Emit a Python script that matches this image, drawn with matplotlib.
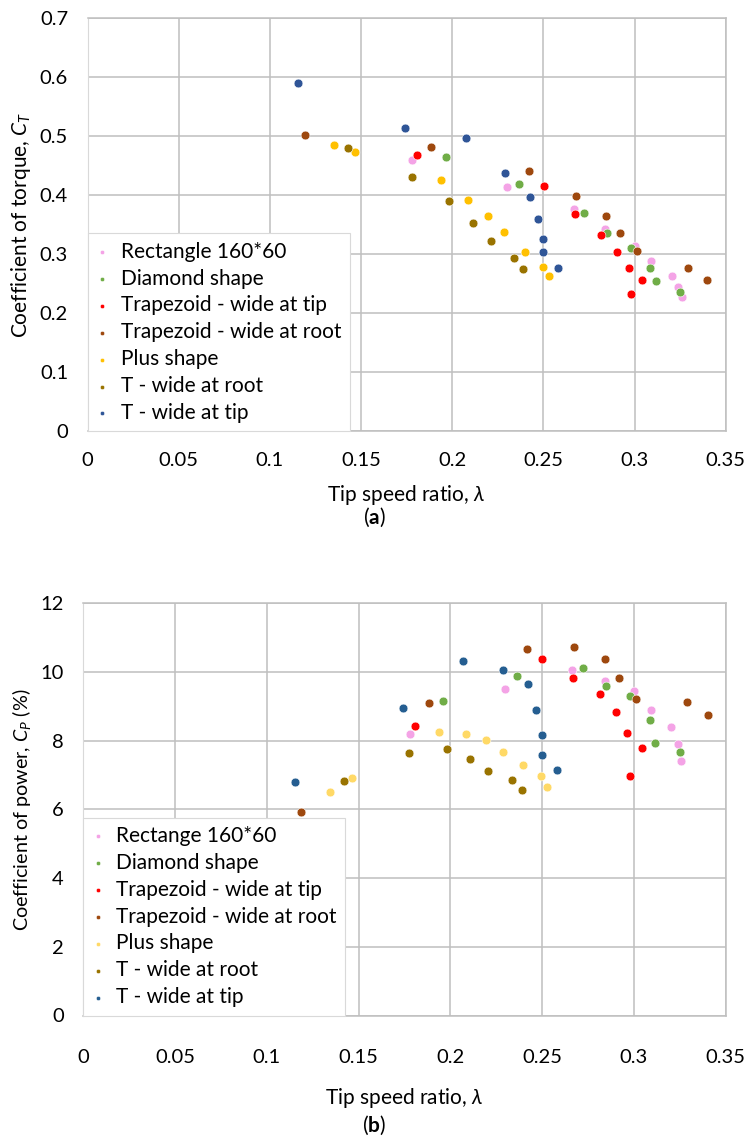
import matplotlib
matplotlib.use("Agg")
import matplotlib.pyplot as plt

plt.rcParams['font.family'] = ['Lato', 'DejaVu Sans']
plt.rcParams['mathtext.fontset'] = 'custom'
plt.rcParams['mathtext.rm'] = 'Lato'
plt.rcParams['mathtext.it'] = 'Lato:italic'
plt.rcParams['mathtext.bf'] = 'Lato:bold'

# ---------------- (a) coefficient of torque ----------------
rect_x_a = [0.1780, 0.2301, 0.2668, 0.2840, 0.3003, 0.3090, 0.3204, 0.3240, 0.3260]
rect_y_a = [0.460, 0.413, 0.377, 0.342, 0.314, 0.288, 0.262, 0.245, 0.227]
diam_x_a = [0.1966, 0.2365, 0.2721, 0.2849, 0.2979, 0.3087, 0.3116, 0.3249]
diam_y_a = [0.464, 0.418, 0.370, 0.335, 0.311, 0.277, 0.254, 0.236]
trtip_x_a = [0.1809, 0.2502, 0.2672, 0.2818, 0.2902, 0.2968, 0.3041, 0.2979]
trtip_y_a = [0.467, 0.415, 0.367, 0.332, 0.304, 0.277, 0.256, 0.233]
trroot_x_a = [0.1194, 0.1884, 0.2420, 0.2677, 0.2842, 0.2920, 0.3012, 0.3292, 0.3399]
trroot_y_a = [0.501, 0.482, 0.440, 0.399, 0.365, 0.335, 0.305, 0.277, 0.256]
plus_x_a = [0.1352, 0.1469, 0.1940, 0.2087, 0.2198, 0.2284, 0.2401, 0.2500, 0.2531]
plus_y_a = [0.484, 0.472, 0.425, 0.392, 0.365, 0.337, 0.304, 0.278, 0.263]
troot_x_a = [0.1429, 0.1780, 0.1983, 0.2113, 0.2213, 0.2339, 0.2390]
troot_y_a = [0.479, 0.430, 0.390, 0.353, 0.322, 0.293, 0.274]
ttip_x_a = [0.1156, 0.1743, 0.2074, 0.2288, 0.2425, 0.2471, 0.2500, 0.2498, 0.2582]
ttip_y_a = [0.590, 0.513, 0.497, 0.438, 0.397, 0.359, 0.326, 0.303, 0.277]

# ---------------- (b) coefficient of power (%) ----------------
rect_x_b = [0.1779, 0.2300, 0.2665, 0.2841, 0.3001, 0.3092, 0.3204, 0.3240, 0.3258]
rect_y_b = [8.19, 9.50, 10.07, 9.73, 9.45, 8.89, 8.40, 7.91, 7.42]
diam_x_b = [0.1962, 0.2362, 0.2721, 0.2850, 0.2979, 0.3089, 0.3115, 0.3249]
diam_y_b = [9.15, 9.89, 10.11, 9.58, 9.29, 8.59, 7.92, 7.67]
trtip_x_b = [0.1806, 0.2498, 0.2670, 0.2814, 0.2901, 0.2964, 0.3044, 0.2977]
trtip_y_b = [8.44, 10.38, 9.83, 9.37, 8.84, 8.22, 7.79, 6.96]
trroot_x_b = [0.1187, 0.1882, 0.2418, 0.2675, 0.2843, 0.2919, 0.3011, 0.3291, 0.3402]
trroot_y_b = [5.93, 9.09, 10.66, 10.72, 10.39, 9.83, 9.21, 9.14, 8.74]
plus_x_b = [0.1345, 0.1465, 0.1937, 0.2086, 0.2193, 0.2285, 0.2398, 0.2496, 0.2528]
plus_y_b = [6.52, 6.92, 8.25, 8.19, 8.02, 7.67, 7.29, 6.96, 6.65]
troot_x_b = [0.1423, 0.1777, 0.1980, 0.2109, 0.2207, 0.2338, 0.2389]
troot_y_b = [6.82, 7.63, 7.75, 7.46, 7.11, 6.87, 6.57]
ttip_x_b = [0.1153, 0.1741, 0.2071, 0.2287, 0.2423, 0.2467, 0.2499, 0.2498, 0.2581]
ttip_y_b = [6.80, 8.95, 10.32, 10.07, 9.64, 8.89, 8.17, 7.58, 7.15]

labels_a = ['Rectangle 160*60', 'Diamond shape', 'Trapezoid - wide at tip',
            'Trapezoid - wide at root', 'Plus shape', 'T - wide at root', 'T - wide at tip']
labels_b = ['Rectange 160*60', 'Diamond shape', 'Trapezoid - wide at tip',
            'Trapezoid - wide at root', 'Plus shape', 'T - wide at root', 'T - wide at tip']
colors_a = ['#F4A3E6', '#70AD47', '#FF0000', '#9E480E', '#FFC000', '#997300', '#2F5597']
colors_b = ['#F4A3E6', '#70AD47', '#FF0000', '#9E480E', '#FFD966', '#997300', '#255E91']

xticks = [0, 0.05, 0.1, 0.15, 0.2, 0.25, 0.3, 0.35]
xticklabels = ['0', '0.05', '0.1', '0.15', '0.2', '0.25', '0.3', '0.35']
yticks_a = [0, 0.1, 0.2, 0.3, 0.4, 0.5, 0.6, 0.7]
yticklabels_a = ['0', '0.1', '0.2', '0.3', '0.4', '0.5', '0.6', '0.7']
yticks_b = [0, 2, 4, 6, 8, 10, 12]
yticklabels_b = ['0', '2', '4', '6', '8', '10', '12']

series_a = [(rect_x_a, rect_y_a), (diam_x_a, diam_y_a), (trtip_x_a, trtip_y_a),
            (trroot_x_a, trroot_y_a), (plus_x_a, plus_y_a), (troot_x_a, troot_y_a),
            (ttip_x_a, ttip_y_a)]
series_b = [(rect_x_b, rect_y_b), (diam_x_b, diam_y_b), (trtip_x_b, trtip_y_b),
            (trroot_x_b, trroot_y_b), (plus_x_b, plus_y_b), (troot_x_b, troot_y_b),
            (ttip_x_b, ttip_y_b)]

W, H = 748, 1140
fig = plt.figure(figsize=(W / 100, H / 100), dpi=100)

grid_c = '#BFBFBF'
fs = 15
tfs = 14.5


def make_axes(rect, series, labels, colors, yticks, yticklabels, ylim, ylabel, ylab_x,
              ylab_fs, xlab_y, xpad):
    ax = fig.add_axes(rect)
    for (xs, ys), lab, c in zip(series, labels, colors):
        ax.scatter(xs, ys, s=40, color=c, edgecolors='white', linewidths=0.4,
                   label=lab, zorder=3)
    ax.set_xlim(0, 0.35)
    ax.set_ylim(*ylim)
    ax.set_xticks(xticks)
    ax.set_xticklabels(xticklabels)
    ax.set_yticks(yticks)
    ax.set_yticklabels(yticklabels)
    ax.grid(True, color=grid_c, linewidth=1.1, zorder=0)
    ax.set_axisbelow(True)
    for s in ax.spines.values():
        s.set_color(grid_c)
        s.set_linewidth(1.1)
    ax.spines['left'].set_color('#D9D9D9')
    ax.spines['left'].set_linewidth(0.8)
    ax.tick_params(length=0, labelsize=tfs, colors='#000000')
    ax.tick_params(axis='x', pad=xpad)
    ax.tick_params(axis='y', pad=14)
    ax.set_xlabel('Tip speed ratio, $\\mathit{\\lambda}$', fontsize=fs, va='top')
    ax.set_ylabel(ylabel, fontsize=ylab_fs)
    ax.yaxis.set_label_coords(ylab_x, 0.5)
    ax.xaxis.set_label_coords(0.5, xlab_y)
    leg = ax.legend(loc='lower left', bbox_to_anchor=(0.0, 0.0), borderaxespad=0.0,
                    fontsize=fs, frameon=True, fancybox=False, markerscale=0.5,
                    handlelength=0.6, handletextpad=0.6, labelspacing=0.33,
                    borderpad=0.4)
    leg.get_frame().set_edgecolor('#D9D9D9')
    leg.get_frame().set_linewidth(0.8)
    leg.get_frame().set_facecolor('white')
    leg.get_frame().set_alpha(1.0)
    return ax


ax1 = make_axes([87.5 / W, 1 - 431.3 / H, (725.7 - 87.5) / W, (431.3 - 17.7) / H],
                series_a, labels_a, colors_a, yticks_a, yticklabels_a, (0, 0.7),
                'Coefficient of torque, $C_T$', -0.085, fs, -0.125, 15)
ax2 = make_axes([83.1 / W, 1 - 1015.5 / H, (725.7 - 83.1) / W, (1015.5 - 603.3) / H],
                series_b, labels_b, colors_b, yticks_b, yticklabels_b, (0, 12),
                'Coefficient of power, $C_P$ (%)', -0.078, 14.2, -0.172, 24)

fig.text(374 / W, 1 - 517 / H, '($\\mathbf{a}$)', ha='center', va='center', fontsize=fs)
fig.text(374 / W, 1 - 1125 / H, '($\\mathbf{b}$)', ha='center', va='center', fontsize=fs)

fig.savefig('out.png', dpi=100)
